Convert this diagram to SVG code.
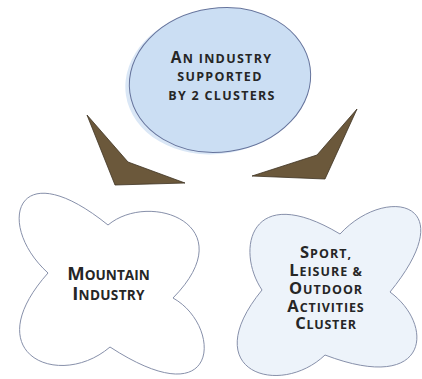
<svg xmlns="http://www.w3.org/2000/svg" width="422" height="379" viewBox="0 0 422 379">
  <style>
    .t { font-family: "Open Sans", "Noto Sans", "Liberation Sans", sans-serif; font-weight: 700; fill: #262626; text-anchor: middle; }
    .cloud { stroke: #8790aa; stroke-width: 1; }
    .arrow { fill: #6b583b; stroke: #3e3222; stroke-width: 0.8; stroke-linejoin: miter; }
  </style>
  <rect width="422" height="379" fill="#ffffff"/>

  <g id="connectors">
    <polygon class="arrow" points="87,115 128,162 185,183 115,185"/>
    <polygon class="arrow" points="357,109 317,155 252,176 325,179"/>
  </g>

  <g id="industry">
    <ellipse cx="216" cy="82" rx="91" ry="72" transform="rotate(-8 216 82)" fill="#dae7f6"/>
    <ellipse cx="220" cy="80" rx="91" ry="72" transform="rotate(-8 220 80)" fill="#cbdef3" stroke="#66749c" stroke-width="1"/>
    <text class="t" x="221.5" y="62.5" letter-spacing="1.3"><tspan font-size="15.5">A</tspan><tspan font-size="12.5">N INDUSTRY</tspan></text>
    <text class="t" x="220" y="81" font-size="12.5" letter-spacing="1.3">SUPPORTED</text>
    <text class="t" x="222" y="100" font-size="12.5" letter-spacing="1.3">BY 2 CLUSTERS</text>
  </g>

  <g id="mountain">
    <path class="cloud" fill="#ffffff" d="M48,273 C-5,225 15,150 108,225 C150,190 245,225 173,298 C222,325 222,420 110,347 C60,390 -25,355 48,273 Z"/>
    <text class="t" x="108.5" y="280"><tspan font-size="18.5">M</tspan><tspan font-size="13.6">OUNTAIN</tspan></text>
    <text class="t" x="108.5" y="300" letter-spacing="0.3"><tspan font-size="18.5">I</tspan><tspan font-size="13.6">NDUSTRY</tspan></text>
  </g>

  <g id="sport">
    <path class="cloud" fill="#edf3fa" d="M262,290 C235,250 250,180 340,234 C385,185 465,200 390,292 C435,325 430,395 325,355 C280,398 195,372 262,290 Z"/>
    <text class="t" x="326" y="258.3" letter-spacing="1"><tspan font-size="16.5">S</tspan><tspan font-size="12.5">PORT,</tspan></text>
    <text class="t" x="326" y="276" letter-spacing="1"><tspan font-size="16.5">L</tspan><tspan font-size="12.5">EISURE &amp;</tspan></text>
    <text class="t" x="326" y="294" letter-spacing="1"><tspan font-size="16.5">O</tspan><tspan font-size="12.5">UTDOOR</tspan></text>
    <text class="t" x="326" y="311.7" letter-spacing="0.9"><tspan font-size="16.5">A</tspan><tspan font-size="12.5">CTIVITIES</tspan></text>
    <text class="t" x="326" y="329.3" letter-spacing="0.7"><tspan font-size="16.5">C</tspan><tspan font-size="12.5">LUSTER</tspan></text>
  </g>
</svg>
